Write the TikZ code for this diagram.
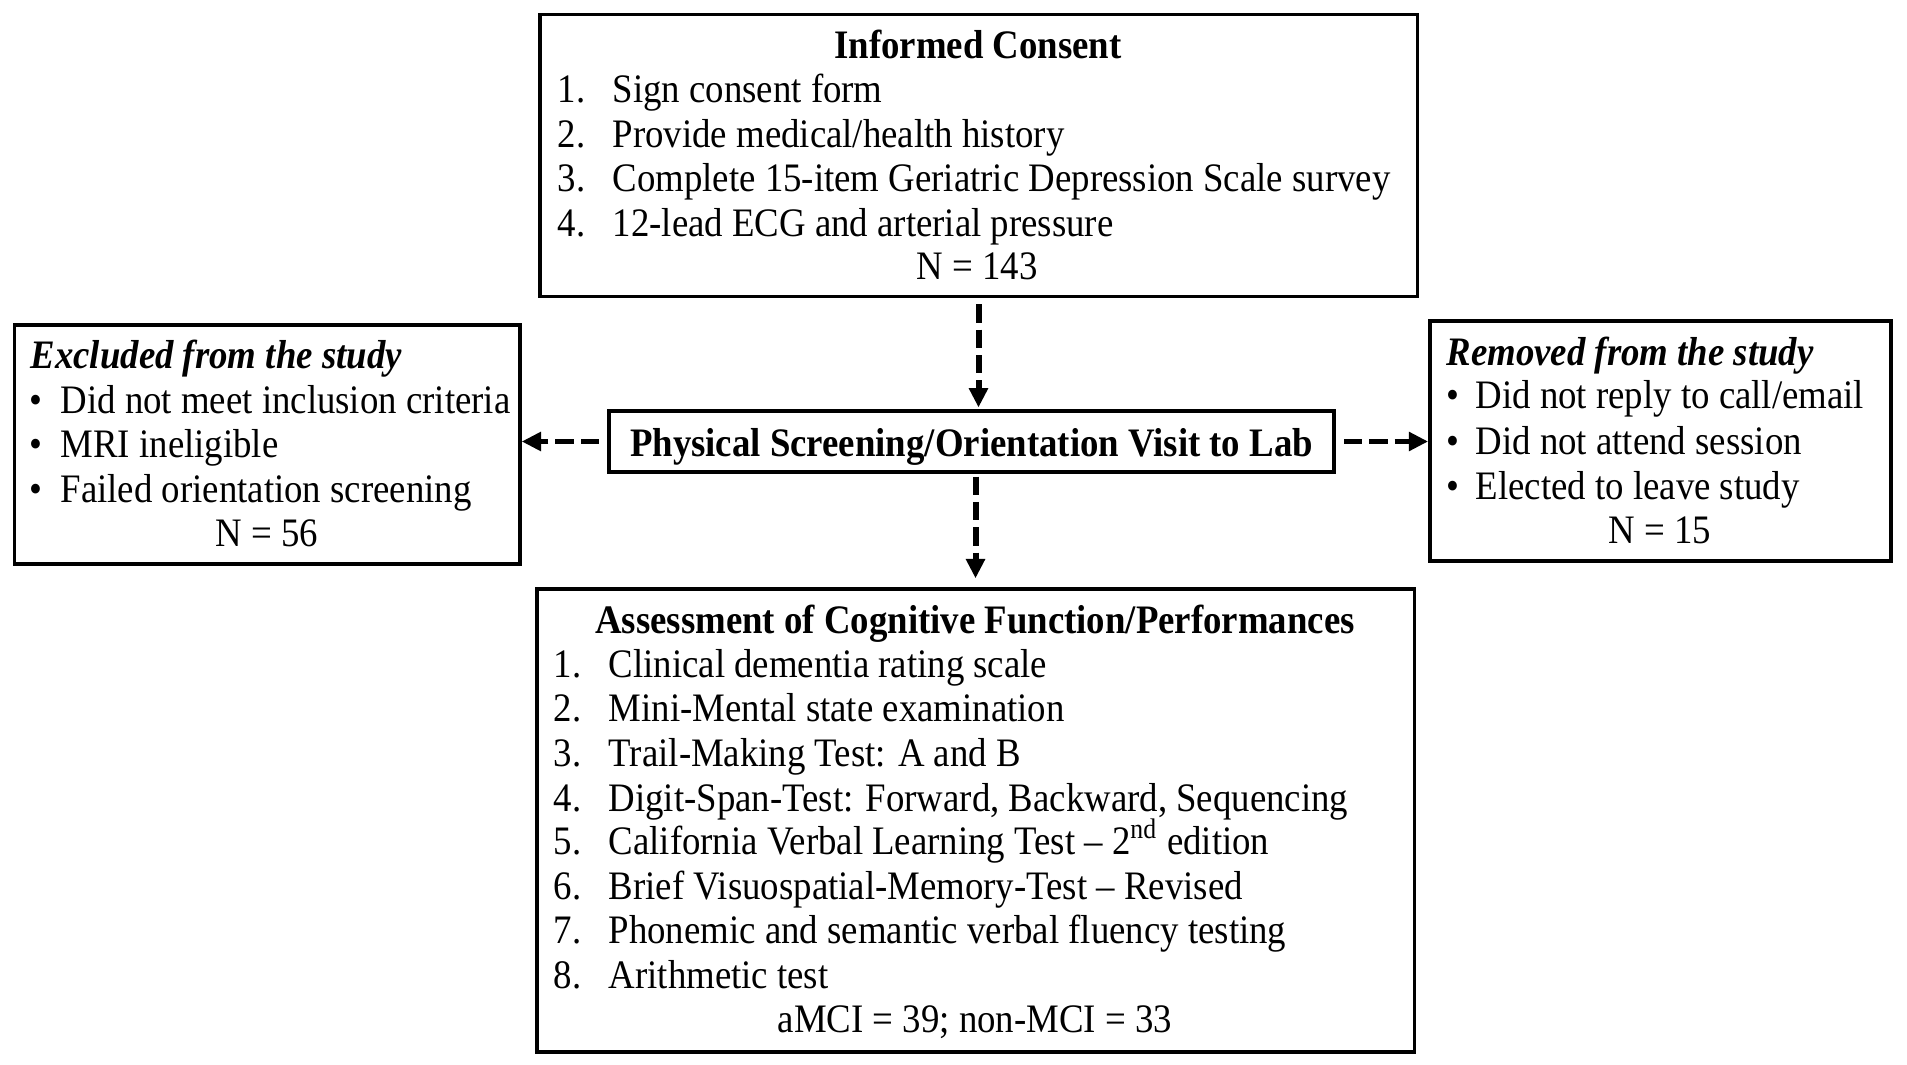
\documentclass[tikz,border=0pt]{standalone}
\usepackage{fontspec}
\setmainfont{Liberation Serif}[FakeStretch=0.91]
\usetikzlibrary{arrows.meta}

\begin{document}
\begin{tikzpicture}[x=0.01cm, y=-0.01cm,
            every node/.style={inner sep=0pt, font=\fontsize{11.5}{14}\selectfont},
            box/.style={draw, line width=1pt, rectangle},
            line/.style={anchor=base west},
            title/.style={anchor=base, font=\fontsize{11.5}{14}\selectfont\bfseries},
            flow/.style={line width=1.7pt, dash pattern=on 5.2pt off 2pt, -{Triangle[length=5.5pt,width=5.2pt]}}]
            \useasboundingbox (0,0) rectangle (1907,1064);
            % boxes
            \node [box, minimum width=8.77cm, minimum height=2.82cm] (consent) at (978.5,155.6) {};
            \node [box, minimum width=7.25cm, minimum height=0.61cm, text height=9.4pt, text depth=1pt, font=\fontsize{11.5}{14}\selectfont\bfseries] (screen) at (971.5,441.5) {Physical Screening/Orientation Visit to Lab};
            \node [box, minimum width=5.05cm, minimum height=2.39cm] (excl) at (267.3,444.5) {};
            \node [box, minimum width=4.61cm, minimum height=2.40cm] (remov) at (1660.5,441) {};
            \node [box, minimum width=8.77cm, minimum height=4.63cm] (assess) at (975.5,820.5) {};
            % informed consent
            \node [title] (ctitle) at (978,59) {Informed Consent};
            \node [line] (c1) at (557,103) {\makebox[0.55cm][l]{1.}Sign consent form};
            \node [line] (c2) at (557,148) {\makebox[0.55cm][l]{2.}Provide medical/health history};
            \node [line] (c3) at (557,192) {\makebox[0.55cm][l]{3.}Complete 15-item Geriatric Depression Scale survey};
            \node [line] (c4) at (557,236.5) {\makebox[0.55cm][l]{4.}12-lead ECG and arterial pressure};
            \node [anchor=base] (cn) at (977,280) {N = 143};
            % excluded
            \node [line, font=\fontsize{11.5}{14}\selectfont\bfseries\itshape] (etitle) at (30,369) {Excluded from the study};
            \node [line] (e1) at (29,413) {\makebox[0.31cm][l]{\textbullet}Did not meet inclusion criteria};
            \node [line] (e2) at (29,457) {\makebox[0.31cm][l]{\textbullet}MRI ineligible};
            \node [line] (e3) at (29,502) {\makebox[0.31cm][l]{\textbullet}Failed orientation screening};
            \node [anchor=base] (en) at (267,546) {N = 56};
            % removed
            \node [line, font=\fontsize{11.5}{14}\selectfont\bfseries\itshape] (rtitle) at (1446,366) {Removed from the study};
            \node [line] (r1) at (1446,409) {\makebox[0.29cm][l]{\textbullet}Did not reply to call/email};
            \node [line] (r2) at (1446,454) {\makebox[0.29cm][l]{\textbullet}Did not attend session};
            \node [line] (r3) at (1446,499) {\makebox[0.29cm][l]{\textbullet}Elected to leave study};
            \node [anchor=base] (rn) at (1660,543) {N = 15};
            % assessment
            \node [title] (atitle) at (975,633) {Assessment of Cognitive Function/Performances};
            \node [line] (a1) at (553,677) {\makebox[0.55cm][l]{1.}Clinical dementia rating scale};
            \node [line] (a2) at (553,721) {\makebox[0.55cm][l]{2.}Mini-Mental state examination};
            \node [line] (a3) at (553,766) {\makebox[0.55cm][l]{3.}Trail-Making Test: A and B};
            \node [line] (a4) at (553,811) {\makebox[0.55cm][l]{4.}Digit-Span-Test: Forward, Backward, Sequencing};
            \node [line] (a5) at (553,854) {\makebox[0.55cm][l]{5.}California Verbal Learning Test -- 2\textsuperscript{nd} edition};
            \node [line] (a6) at (553,899) {\makebox[0.55cm][l]{6.}Brief Visuospatial-Memory-Test -- Revised};
            \node [line] (a7) at (553,943) {\makebox[0.55cm][l]{7.}Phonemic and semantic verbal fluency testing};
            \node [line] (a8) at (553,988) {\makebox[0.55cm][l]{8.}Arithmetic test};
            \node [anchor=base] (an) at (975,1032) {aMCI = 39; non-MCI = 33};
            % arrows
            \draw [flow, shorten <=1.7pt, shorten >=0.5pt] (consent.south) -- (consent.south |- screen.north);
            \draw [flow, shorten <=0.8pt, shorten >=2.5pt] (assess.north |- screen.south) -- (assess.north);
            \draw [flow, shorten <=2.3pt] (screen.west) -- (screen.west -| excl.east);
            \draw [flow, shorten <=2.3pt] (screen.east) -- (screen.east -| remov.west);
\end{tikzpicture}
\end{document}
